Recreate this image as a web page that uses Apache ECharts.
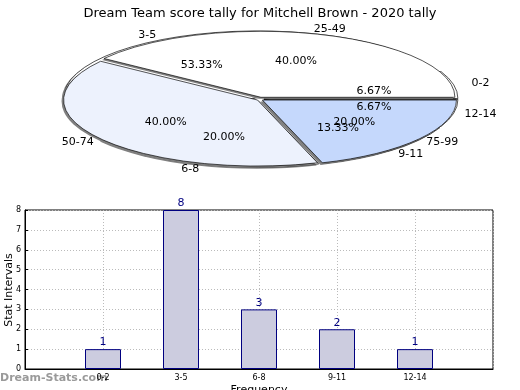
<!DOCTYPE html>
<html><head><meta charset="utf-8">
<script src="https://cdn.jsdelivr.net/npm/echarts@6/dist/echarts.min.js"></script>
<style>html,body{margin:0;padding:0;background:#fff}#c{width:520px;height:390px}</style>
</head><body><div id="c"></div>
<script>
const chartTitle = 'Dream Team score tally for Mitchell Brown - 2020 tally';
const categories = ['0-2', '3-5', '6-8', '9-11', '12-14'];
const counts = [1, 8, 3, 2, 1];
const rangeNames = ['25-49', '50-74', '75-99'];
const rangeValues = [6, 6, 3];
const rangeColors = ['#ffffff', '#edf2fd', '#c5d8fc'];
const yMax = 8;
const yAxisTitle = 'Stat Intervals';
const xAxisTitle = 'Frequency';

const FONT = 'DejaVu Sans';
const PIE = { cx: 260, cy: 99, rx: 194, ry: 66 };
PIE.k = PIE.ry / PIE.rx;

function sliceAngles(vals) {
  const total = vals.reduce((a, b) => a + b, 0);
  let acc = 0;
  return vals.map(v => {
    const a0 = acc / total * 360;
    acc += v;
    const a1 = acc / total * 360;
    return { a0, a1, mid: (a0 + a1) / 2, pct: (v / total * 100).toFixed(2) + '%' };
  });
}

function sliceRenderer(vals, colors, explode) {
  const ang = sliceAngles(vals);
  return function (params, api) {
    const i = params.dataIndex;
    const a = ang[i];
    const m = a.mid * Math.PI / 180;
    const ox = PIE.cx + Math.cos(m) * explode;
    const oy = PIE.cy - Math.sin(m) * explode * 0.6;
    const shape = { cx: 0, cy: 0, r: PIE.rx, r0: 0,
      startAngle: -a.a0 * Math.PI / 180, endAngle: -a.a1 * Math.PI / 180, clockwise: false };
    return { type: 'group', children: [
      { type: 'sector', x: ox - 2, y: oy + 1.5, scaleY: PIE.k, shape: shape,
        style: { fill: '#808080' } },
      { type: 'sector', x: ox, y: oy, scaleY: PIE.k, shape: shape,
        style: { fill: colors[i], stroke: '#000', lineWidth: 1, strokeNoScale: true } }
    ] };
  };
}

function labelRenderer(vals, names) {
  const ang = sliceAngles(vals);
  return function (params, api) {
    const a = ang[params.dataIndex];
    const m = a.mid * Math.PI / 180;
    const c = Math.cos(m), s = Math.sin(m);
    const st = { fill: '#000', fontSize: 11, fontFamily: FONT, align: 'center', verticalAlign: 'middle' };
    return { type: 'group', children: [
      { type: 'text', x: PIE.cx + c * PIE.rx * 0.6, y: PIE.cy - s * PIE.ry * 0.6,
        style: Object.assign({ text: a.pct }, st) },
      { type: 'text', x: PIE.cx + c * (PIE.rx * 1.1 + 12), y: PIE.cy - s * PIE.ry * 1.12,
        style: Object.assign({ text: names[params.dataIndex] }, st) }
    ] };
  };
}

const pie1Data = categories.map((n, i) => ({ name: n, value: counts[i] }));
const pie2Data = rangeNames.map((n, i) => ({ name: n, value: rangeValues[i] }));
const barData = categories.map((n, i) => [i + 1, counts[i]]);

const chart = echarts.init(document.getElementById('c'), null, { renderer: 'canvas' });
chart.setOption({
  animation: false,
  backgroundColor: '#fff',
  title: { text: chartTitle, left: 'center', top: 2,
    textStyle: { fontSize: 13, fontWeight: 'normal', fontFamily: FONT, color: '#000' } },
  graphic: [
    { type: 'text', left: 0, top: 373,
      style: { text: 'Dream-Stats.com', fill: '#9a9a9a', fontSize: 11, fontWeight: 'bold', fontFamily: FONT } },
    { type: 'text', x: 9, y: 290, rotation: Math.PI / 2,
      style: { text: yAxisTitle, fill: '#000', fontSize: 11, fontFamily: FONT, align: 'center', verticalAlign: 'middle' } }
  ],
  grid: { left: 25, top: 210, width: 468, height: 159, show: true, borderColor: '#000', borderWidth: 1,
    containLabel: false, outerBoundsMode: 'none' },
  xAxis: { type: 'value', min: 0, max: categories.length + 1, interval: 1,
    axisLine: { lineStyle: { color: '#000' } },
    axisTick: { show: false },
    axisLabel: { fontSize: 8, fontFamily: FONT, color: '#000', margin: 5,
      formatter: v => categories[v - 1] || '' },
    splitLine: { show: true, lineStyle: { color: '#bbb', type: [1, 2] } },
    name: xAxisTitle, nameLocation: 'middle', nameGap: 16,
    nameTextStyle: { fontSize: 11, fontFamily: FONT, color: '#000' } },
  yAxis: { type: 'value', min: 0, max: yMax, interval: 1,
    axisLine: { show: true, lineStyle: { color: '#000' } },
    axisTick: { show: true, inside: true, length: 3, lineStyle: { color: '#000' } },
    axisLabel: { fontSize: 8, fontFamily: FONT, color: '#000', margin: 4 },
    splitLine: { show: true, lineStyle: { color: '#bbb', type: [1, 2] } } },
  series: [
    { type: 'custom', coordinateSystem: 'none', data: pie1Data, renderItem: sliceRenderer(counts, counts.map(() => '#ffffff'), 4), silent: true },
    { type: 'custom', coordinateSystem: 'none', data: pie2Data, renderItem: sliceRenderer(rangeValues, rangeColors, 3), silent: true },
    { type: 'custom', coordinateSystem: 'none', data: pie1Data, renderItem: labelRenderer(counts, categories), silent: true },
    { type: 'custom', coordinateSystem: 'none', data: pie2Data, renderItem: labelRenderer(rangeValues, rangeNames), silent: true },
    { type: 'bar', data: barData, barWidth: 36,
      itemStyle: { color: '#ccccdf', borderColor: '#000080', borderWidth: 1 },
      label: { show: true, position: 'top', distance: 1, color: '#000080', fontSize: 11, fontFamily: FONT } }
  ]
});
</script></body></html>
